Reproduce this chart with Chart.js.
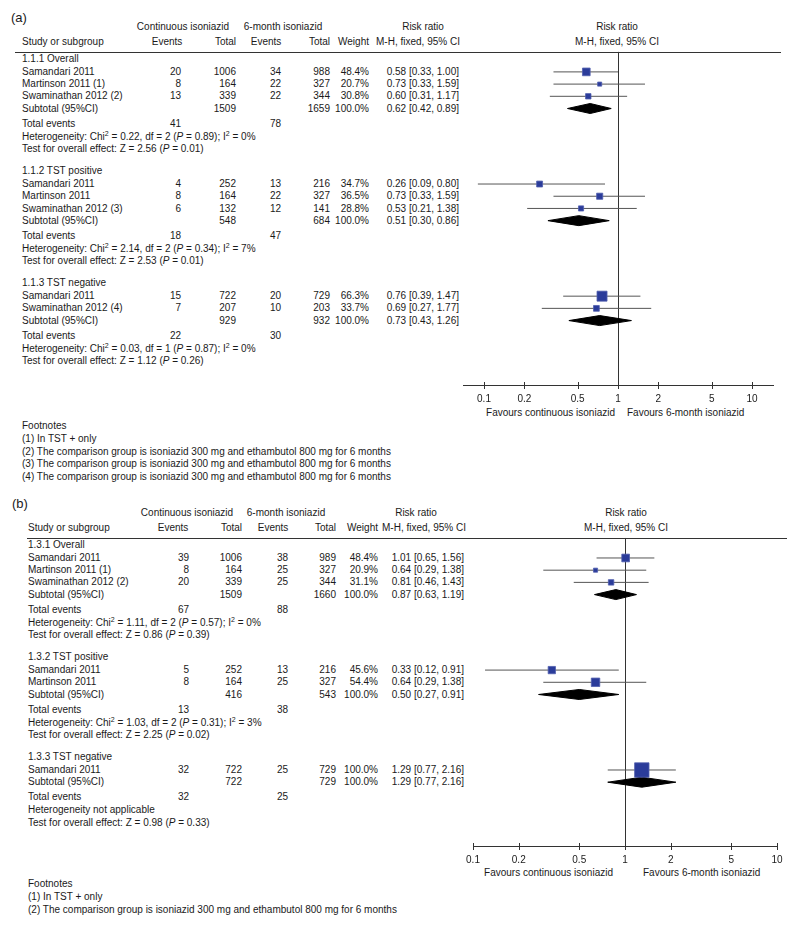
<!DOCTYPE html>
<html><head><meta charset="utf-8">
<script src="https://cdn.jsdelivr.net/npm/chart.js@4/dist/chart.umd.min.js"></script>
<style>
body{margin:0;background:#fff;width:800px;height:927px;position:relative;overflow:hidden;font-family:"Liberation Sans",Arial,Helvetica,sans-serif;font-size:10px;color:#1a1a1a}
.t{position:absolute;white-space:nowrap;line-height:12px;height:12px}
.t sup{font-size:7px;line-height:0;vertical-align:4px}
.hl{position:absolute;height:0;border-top:1px solid #333}
canvas{position:absolute}
</style></head><body>
<script>
// ---------- shared ----------
const tickVals = [0.1, 0.2, 0.5, 1, 2, 5, 10];
const tickLabels = ['0.1', '0.2', '0.5', '1', '2', '5', '10'];
const headCont = 'Continuous isoniazid';
const head6m = '6-month isoniazid';
const favourLeft = 'Favours continuous isoniazid';
const favourRight = 'Favours 6-month isoniazid';

// ---------- panel (a) ----------
const aGroups = ['1.1.1 Overall', '1.1.2 TST positive', '1.1.3 TST negative'];
const aGroupOf = [0, 0, 0, 1, 1, 1, 2, 2];
const aStudy = ['Samandari 2011', 'Martinson 2011 (1)', 'Swaminathan 2012 (2)', 'Samandari 2011', 'Martinson 2011', 'Swaminathan 2012 (3)', 'Samandari 2011', 'Swaminathan 2012 (4)'];
const aEv1 = [20, 8, 13, 4, 8, 6, 15, 7];
const aN1 = [1006, 164, 339, 252, 164, 132, 722, 207];
const aEv2 = [34, 22, 22, 13, 22, 12, 20, 10];
const aN2 = [988, 327, 344, 216, 327, 141, 729, 203];
const aWeight = [48.4, 20.7, 30.8, 34.7, 36.5, 28.8, 66.3, 33.7];
const aRR = [0.58, 0.73, 0.60, 0.26, 0.73, 0.53, 0.76, 0.69];
const aLo = [0.33, 0.33, 0.31, 0.09, 0.33, 0.21, 0.39, 0.27];
const aHi = [1.00, 1.59, 1.17, 0.80, 1.59, 1.38, 1.47, 1.77];
const aSubN1 = [1509, 548, 929];
const aSubN2 = [1659, 684, 932];
const aSubRR = [0.62, 0.51, 0.73];
const aSubLo = [0.42, 0.30, 0.43];
const aSubHi = [0.89, 0.86, 1.26];
const aTotEv1 = [41, 18, 22];
const aTotEv2 = [78, 47, 30];
const aHetChi = ['0.22', '2.14', '0.03'];
const aHetDf = [2, 2, 1];
const aHetP = ['0.89', '0.34', '0.87'];
const aHetI2 = [0, 7, 0];
const aZ = ['2.56', '2.53', '1.12'];
const aZP = ['0.01', '0.01', '0.26'];
const aFoot = ['(1) In TST + only',
  '(2) The comparison group is isoniazid 300 mg and ethambutol 800 mg for 6 months',
  '(3) The comparison group is isoniazid 300 mg and ethambutol 800 mg for 6 months',
  '(4) The comparison group is isoniazid 300 mg and ethambutol 800 mg for 6 months'];

// ---------- panel (b) ----------
const bGroups = ['1.3.1 Overall', '1.3.2 TST positive', '1.3.3 TST negative'];
const bGroupOf = [0, 0, 0, 1, 1, 2];
const bStudy = ['Samandari 2011', 'Martinson 2011 (1)', 'Swaminathan 2012 (2)', 'Samandari 2011', 'Martinson 2011', 'Samandari 2011'];
const bEv1 = [39, 8, 20, 5, 8, 32];
const bN1 = [1006, 164, 339, 252, 164, 722];
const bEv2 = [38, 25, 25, 13, 25, 25];
const bN2 = [989, 327, 344, 216, 327, 729];
const bWeight = [48.4, 20.9, 31.1, 45.6, 54.4, 100.0];
const bRR = [1.01, 0.64, 0.81, 0.33, 0.64, 1.29];
const bLo = [0.65, 0.29, 0.46, 0.12, 0.29, 0.77];
const bHi = [1.56, 1.38, 1.43, 0.91, 1.38, 2.16];
const bSubN1 = [1509, 416, 722];
const bSubN2 = [1660, 543, 729];
const bSubRR = [0.87, 0.50, 1.29];
const bSubLo = [0.63, 0.27, 0.77];
const bSubHi = [1.19, 0.91, 2.16];
const bTotEv1 = [67, 13, 32];
const bTotEv2 = [88, 38, 25];
const bHetChi = ['1.11', '1.03', null];
const bHetDf = [2, 2, null];
const bHetP = ['0.57', '0.31', null];
const bHetI2 = [0, 3, null];
const bZ = ['0.86', '2.25', '0.98'];
const bZP = ['0.39', '0.02', '0.33'];
const bFoot = ['(1) In TST + only',
  '(2) The comparison group is isoniazid 300 mg and ethambutol 800 mg for 6 months'];

// ---------- layout (positions / styles only) ----------
const layoutA = {label:'(a)', labelX:11, lineY:52, lineX0:15, lineX1:781, study:22, ev1:181, n1:236, ev2:281, n2:330, wt:369, ci:459,
  hdrCont:183, hdr6m:283, hdrRR:423, hdrMH:418, hdrEv1:167, hdrEv2:266, plotHdr:617,
  canvasL:440, canvasW:350, axisLeft:463, axisRight:773, tick0:484, tick1:752, axisY:385, favL:615, favR:627, favY:413, footY:426};
const layoutB = {label:'(b)', labelX:12, lineY:538, lineX0:27, lineX1:787, study:28, ev1:189, n1:242, ev2:288, n2:336, wt:378, ci:464,
  hdrCont:187, hdr6m:286, hdrRR:416, hdrMH:424, hdrEv1:173, hdrEv2:273, plotHdr:626,
  canvasL:450, canvasW:345, axisLeft:473, axisRight:777, tick0:473, tick1:777, axisY:846, favL:613, favR:643, favY:873, footY:884};

const FONT = '"Liberation Sans", Arial, Helvetica, sans-serif';
const SQUARE = '#2b3c9a', CI_COL = '#555', AX_COL = '#333';

function txt(x, y, html, align, extra) {
  const d = document.createElement('div');
  d.className = 't'; d.innerHTML = html;
  d.style.top = (y - 6) + 'px';
  if (align === 'r') d.style.right = (800 - x) + 'px';
  else if (align === 'c') { d.style.left = x + 'px'; d.style.transform = 'translateX(-50%)'; }
  else d.style.left = x + 'px';
  if (extra) Object.assign(d.style, extra);
  document.body.appendChild(d);
  return d;
}
function hline(x0, x1, y) {
  const d = document.createElement('div'); d.className = 'hl';
  d.style.left = x0 + 'px'; d.style.width = (x1 - x0) + 'px'; d.style.top = y + 'px';
  document.body.appendChild(d);
}
const f2 = v => v.toFixed(2);
const ciText = (r, l, h) => `${f2(r)} [${f2(l)}, ${f2(h)}]`;
const sideFromWeight = w => 1.4 + 0.13 * w;

function buildPanel(L, D) {
  txt(L.labelX, L.lineY - 34, D.label, 'l', {fontSize:'13px', lineHeight:'14px', height:'14px', top:(L.lineY - 41) + 'px'});
  const h1 = L.lineY - 25.5, h2 = L.lineY - 10.5;
  txt(L.hdrCont, h1, headCont, 'c');
  txt(L.hdr6m, h1, head6m, 'c');
  txt(L.hdrRR, h1, 'Risk ratio', 'c');
  txt(L.plotHdr, h1, 'Risk ratio', 'c');
  txt(L.study, h2, 'Study or subgroup', 'l');
  txt(L.hdrEv1, h2, 'Events', 'c');
  txt(L.n1, h2, 'Total', 'r');
  txt(L.hdrEv2, h2, 'Events', 'c');
  txt(L.n2, h2, 'Total', 'r');
  txt(L.wt, h2, 'Weight', 'r');
  txt(L.hdrMH, h2, 'M-H, fixed, 95% CI', 'c');
  txt(L.plotHdr, h2, 'M-H, fixed, 95% CI', 'c');
  hline(L.lineX0, L.lineX1, L.lineY);

  let y = L.lineY + 7;
  const rowY = [], subY = [];
  D.groups.forEach((g, gi) => {
    txt(L.study, y, g, 'l'); y += 13;
    D.groupOf.forEach((gg, i) => {
      if (gg !== gi) return;
      txt(L.study, y, D.study[i], 'l');
      txt(L.ev1, y, D.ev1[i], 'r');
      txt(L.n1, y, D.n1[i], 'r');
      txt(L.ev2, y, D.ev2[i], 'r');
      txt(L.n2, y, D.n2[i], 'r');
      txt(L.wt, y, D.weight[i].toFixed(1) + '%', 'r');
      txt(L.ci, y, ciText(D.rr[i], D.lo[i], D.hi[i]), 'r');
      rowY[i] = y; y += 12.2;
    });
    txt(L.study, y, 'Subtotal (95%CI)', 'l');
    txt(L.n1, y, D.subN1[gi], 'r');
    txt(L.n2, y, D.subN2[gi], 'r');
    txt(L.wt, y, '100.0%', 'r');
    txt(L.ci, y, ciText(D.subRR[gi], D.subLo[gi], D.subHi[gi]), 'r');
    subY[gi] = y; y += 15;
    txt(L.study, y, 'Total events', 'l');
    txt(L.ev1, y, D.totEv1[gi], 'r');
    txt(L.ev2, y, D.totEv2[gi], 'r');
    y += 13;
    if (D.hetChi[gi] === null) txt(L.study, y, 'Heterogeneity not applicable', 'l');
    else txt(L.study, y, `Heterogeneity: Chi<sup>2</sup> = ${D.hetChi[gi]}, df = ${D.hetDf[gi]} (<i>P</i> = ${D.hetP[gi]}); I<sup>2</sup> = ${D.hetI2[gi]}%`, 'l');
    y += 12.5;
    txt(L.study, y, `Test for overall effect: Z = ${D.z[gi]} (<i>P</i> = ${D.zp[gi]})`, 'l');
    y += 22;
  });

  txt(L.favL, L.favY, favourLeft, 'r');
  txt(L.favR, L.favY, favourRight, 'l');
  txt(L.study, L.footY, 'Footnotes', 'l');
  D.foot.forEach((f, k) => txt(L.study, L.footY + 12.8 * (k + 1), f, 'l'));

  // ---- forest plot via Chart.js ----
  const plotH = L.axisY - L.lineY;
  const cv = document.createElement('canvas');
  document.body.appendChild(cv);

  const decade = (L.tick1 - L.tick0) / 2;
  const xmin = Math.pow(10, -1 - (L.tick0 - L.axisLeft) / decade);
  const xmax = Math.pow(10, 1 + (L.axisRight - L.tick1) / decade);

  const makeDatasets = () => {
    const datasets = [];
    datasets.push({
      data: D.rr.map((r, i) => ({x: r, y: rowY[i]})),
      pointStyle: 'rect',
      pointRadius: ctx => sideFromWeight(D.weight[ctx.dataIndex]) / Math.SQRT2,
      pointBackgroundColor: SQUARE, pointBorderColor: '#5060ae', pointBorderWidth: 0.8,
      showLine: false
    });
    D.subRR.forEach((r, gi) => {
      const yy = subY[gi];
      datasets.push({
        data: [{x: D.subLo[gi], y: yy}, {x: r, y: yy - 5}, {x: D.subHi[gi], y: yy}, {x: r, y: yy + 5}, {x: D.subLo[gi], y: yy}],
        showLine: true, fill: 'shape', backgroundColor: '#000', borderColor: '#000', borderWidth: 1,
        pointRadius: 0, tension: 0
      });
    });
    D.rr.forEach((r, i) => {
      datasets.push({
        data: [{x: D.lo[i], y: rowY[i]}, {x: D.hi[i], y: rowY[i]}],
        showLine: true, borderColor: CI_COL, borderWidth: 1, pointRadius: 0
      });
    });
    return datasets;
  };

  const deco = {
    id: 'deco',
    beforeDatasetsDraw(chart) {
      const {ctx, chartArea, scales} = chart;
      const x = Math.round(scales.x.getPixelForValue(1)) + 0.5;
      ctx.save(); ctx.strokeStyle = AX_COL; ctx.lineWidth = 1;
      ctx.beginPath(); ctx.moveTo(x, chartArea.top); ctx.lineTo(x, chartArea.bottom); ctx.stroke();
      ctx.restore();
    },
    afterDraw(chart) {
      const {ctx, chartArea, scales} = chart;
      ctx.save(); ctx.strokeStyle = AX_COL; ctx.lineWidth = 1;
      tickVals.forEach(v => {
        const x = Math.round(scales.x.getPixelForValue(v)) + 0.5;
        ctx.beginPath(); ctx.moveTo(x, chartArea.bottom - 3); ctx.lineTo(x, chartArea.bottom + 4); ctx.stroke();
      });
      ctx.restore();
    }
  };

  const config = () => ({
    type: 'scatter',
    data: {datasets: makeDatasets()},
    plugins: [deco],
    options: {
      responsive: false, maintainAspectRatio: false, animation: false, events: [],
      layout: {padding: {left: L.axisLeft - L.canvasL, right: L.canvasL + L.canvasW - L.axisRight, top: 0, bottom: 0}},
      plugins: {legend: {display: false}, tooltip: {enabled: false}},
      scales: {
        x: {
          type: 'logarithmic', min: xmin, max: xmax, position: 'bottom',
          afterBuildTicks: s => { s.ticks = tickVals.map(v => ({value: v})); },
          ticks: {autoSkip: false, maxRotation: 0, padding: 8, color: '#1a1a1a', font: {family: FONT, size: 10},
            callback: (v, i) => tickLabels[i]},
          grid: {display: false, drawTicks: false},
          border: {display: true, color: AX_COL, width: 1}
        },
        y: {type: 'linear', display: false, min: L.lineY, max: L.axisY, reverse: true}
      }
    }
  });

  const setCanvas = (h, top) => {
    cv.width = L.canvasW; cv.height = h;
    cv.style.left = L.canvasL + 'px'; cv.style.top = top + 'px';
    cv.style.width = L.canvasW + 'px'; cv.style.height = h + 'px';
  };
  // first pass: measure axis space, then size canvas so that the plot area spans lineY..axisY exactly
  setCanvas(plotH + 30, L.lineY);
  let chart = new Chart(cv, config());
  const ca = chart.chartArea;
  const extraTop = ca.top, extraBottom = (plotH + 30) - ca.bottom;
  chart.destroy();
  setCanvas(Math.round(extraTop + plotH + extraBottom), L.lineY - extraTop);
  chart = new Chart(cv, config());
}

buildPanel(layoutA, {label: layoutA.label, groups: aGroups, groupOf: aGroupOf, study: aStudy, ev1: aEv1, n1: aN1, ev2: aEv2, n2: aN2,
  weight: aWeight, rr: aRR, lo: aLo, hi: aHi, subN1: aSubN1, subN2: aSubN2, subRR: aSubRR, subLo: aSubLo, subHi: aSubHi,
  totEv1: aTotEv1, totEv2: aTotEv2, hetChi: aHetChi, hetDf: aHetDf, hetP: aHetP, hetI2: aHetI2, z: aZ, zp: aZP, foot: aFoot});
buildPanel(layoutB, {label: layoutB.label, groups: bGroups, groupOf: bGroupOf, study: bStudy, ev1: bEv1, n1: bN1, ev2: bEv2, n2: bN2,
  weight: bWeight, rr: bRR, lo: bLo, hi: bHi, subN1: bSubN1, subN2: bSubN2, subRR: bSubRR, subLo: bSubLo, subHi: bSubHi,
  totEv1: bTotEv1, totEv2: bTotEv2, hetChi: bHetChi, hetDf: bHetDf, hetP: bHetP, hetI2: bHetI2, z: bZ, zp: bZP, foot: bFoot});
</script>
</body></html>
